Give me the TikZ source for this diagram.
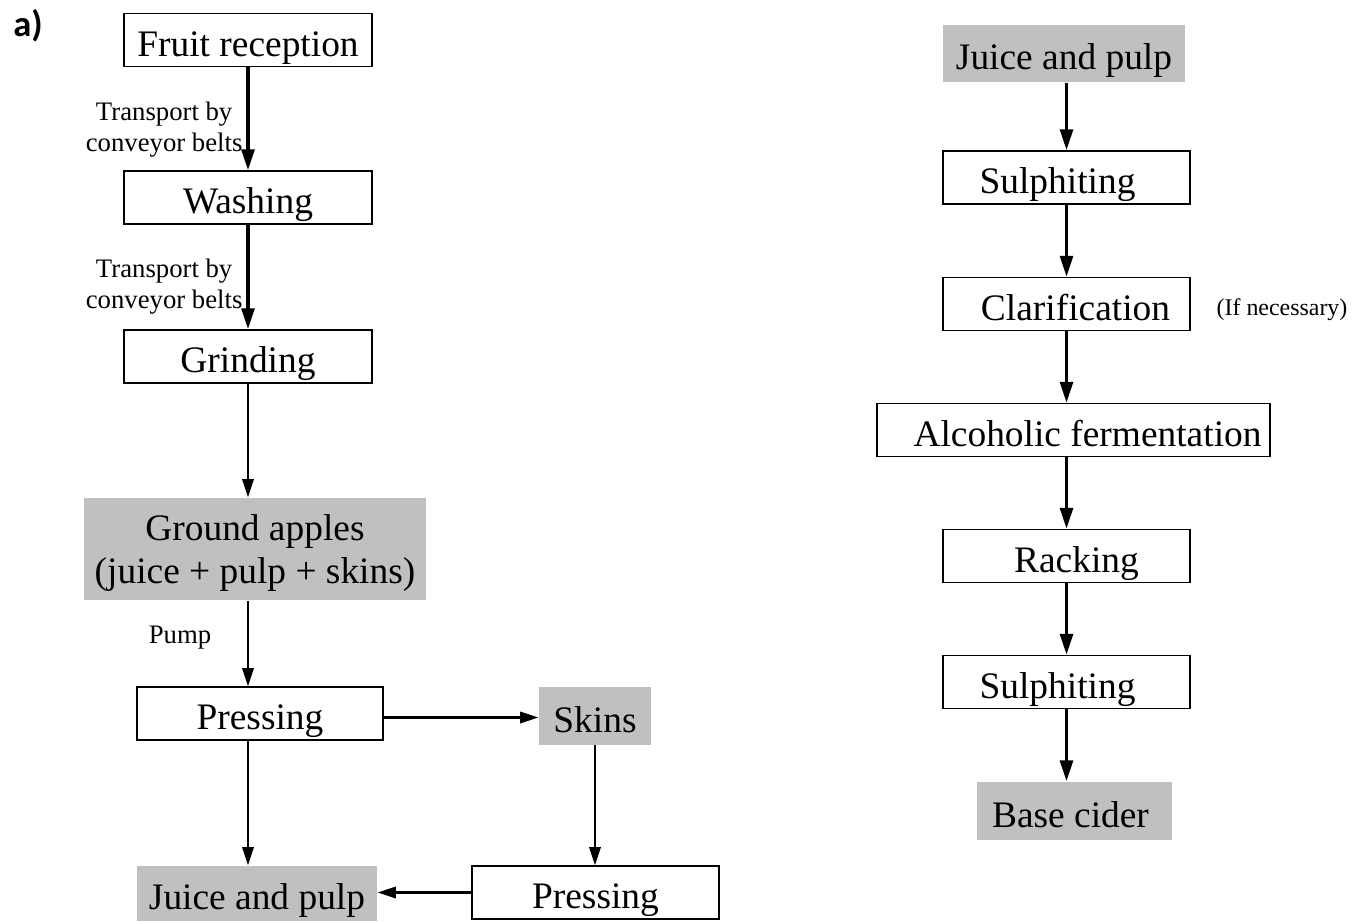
\documentclass[tikz,border=0pt]{standalone}
\usepackage{fontspec}
\setmainfont{Liberation Serif}
\newfontfamily\panelfont{Carlito}
\usetikzlibrary{positioning,arrows.meta}
\definecolor{productgray}{HTML}{C0C0C0}

\begin{document}
\begin{tikzpicture}[x=0.0125cm, y=-0.0125cm,
        stage/.style={draw, line width=0.5pt, inner sep=0pt, minimum width=3.1cm, minimum height=0.66cm,
          text height=11.5pt, text depth=0pt, font=\fontsize{13.3}{15}\selectfont},
        product/.style={fill=productgray, inner sep=0pt, minimum height=0.72cm, align=center,
          text height=11.5pt, text depth=0pt, font=\fontsize{13.3}{15.5}\selectfont},
        flow/.style={-{Triangle[length=7.5pt,width=4.5pt]}, line width=1.35pt},
        thinflow/.style={-{Triangle[length=6.5pt,width=4pt]}, line width=0.85pt},
        note/.style={align=center, inner sep=0pt, font=\fontsize{9.5}{11}\selectfont}]
    \useasboundingbox (0,0) rectangle (1359,921);
    \node[font=\panelfont\bfseries\fontsize{13}{15}\selectfont] (panel) at (28,26) {a)};

    % apple processing
    \node[stage] (reception) at (248,40) {Fruit reception};
    \node[stage] (washing) at (248,197.5) {Washing};
    \node[stage] (grinding) at (248,356.5) {Grinding};
    \node[product, minimum width=4.275cm, minimum height=1.275cm, text height=, text depth=0pt] (ground) at (255,549)
      {Ground apples\\(juice + pulp + skins)};
    \node[stage, minimum width=3.075cm] (pressing) at (260,713.5) {Pressing};
    \node[product, minimum width=1.4cm] (skins) at (595,716) {Skins};
    \node[stage, minimum width=3.09cm] (repressing) at (595.5,892.5) {Pressing};
    \node[product, minimum width=3.0cm, minimum height=0.69cm] (juicepulp) at (257,893.5) {Juice and pulp};

    \node[note, anchor=east] (belt1) at (243,130) {Transport by\\conveyor belts};
    \node[note, anchor=east] (belt2) at (243,287) {Transport by\\conveyor belts};
    \node[note] (pump) at (180,638) {Pump};

    \draw[flow] (reception.south) -- (washing.north);
    \draw[flow] (washing.south) -- (grinding.north);
    \draw[thinflow] (grinding.south) -- (grinding.south |- ground.north);
    \draw[thinflow] (grinding.south |- ground.south) -- (grinding.south |- pressing.north);
    \draw[thinflow] (grinding.south |- pressing.south) -- (grinding.south |- juicepulp.north);
    \draw[thinflow] ([yshift=-0.05cm]pressing.east) -- ([yshift=-0.05cm]pressing.east -| skins.west);
    \draw[thinflow] (skins.south) -- (skins.south |- repressing.north);
    \draw[thinflow] (repressing.west) -- (repressing.west -| juicepulp.east);

    % cider making
    \node[product, minimum width=3.025cm] (juice) at (1064,53.5) {Juice and pulp};
    \node[stage, minimum width=3.09cm] (sulphiting) at (1066.5,177.5) {Sulphiting\hspace*{0.225cm}};
    \node[stage, minimum width=3.09cm] (clarification) at (1066.5,304) {\hspace*{0.225cm}Clarification};
    \node[stage, minimum width=4.91cm] (fermentation) at (1073.5,430) {\hspace*{0.35cm}Alcoholic fermentation};
    \node[stage, minimum width=3.09cm] (racking) at (1066.5,556) {\hspace*{0.25cm}Racking};
    \node[stage, minimum width=3.09cm] (resulphiting) at (1066.5,682) {Sulphiting\hspace*{0.225cm}};
    \node[product, minimum width=2.44cm, minimum height=0.725cm] (cider) at (1074.5,811) {Base cider\hspace*{0.1cm}};
    \node[note, font=\fontsize{8.5}{10}\selectfont] (optional) at (1282,310) {(If necessary)};

    \draw[flow] (sulphiting.north |- juice.south) -- (sulphiting.north);
    \draw[flow] (sulphiting.south) -- (clarification.north);
    \draw[flow] (clarification.south) -- (clarification.south |- fermentation.north);
    \draw[flow] (clarification.south |- fermentation.south) -- (racking.north);
    \draw[flow] (racking.south) -- (resulphiting.north);
    \draw[flow] (resulphiting.south) -- (resulphiting.south |- cider.north);
\end{tikzpicture}
\end{document}
